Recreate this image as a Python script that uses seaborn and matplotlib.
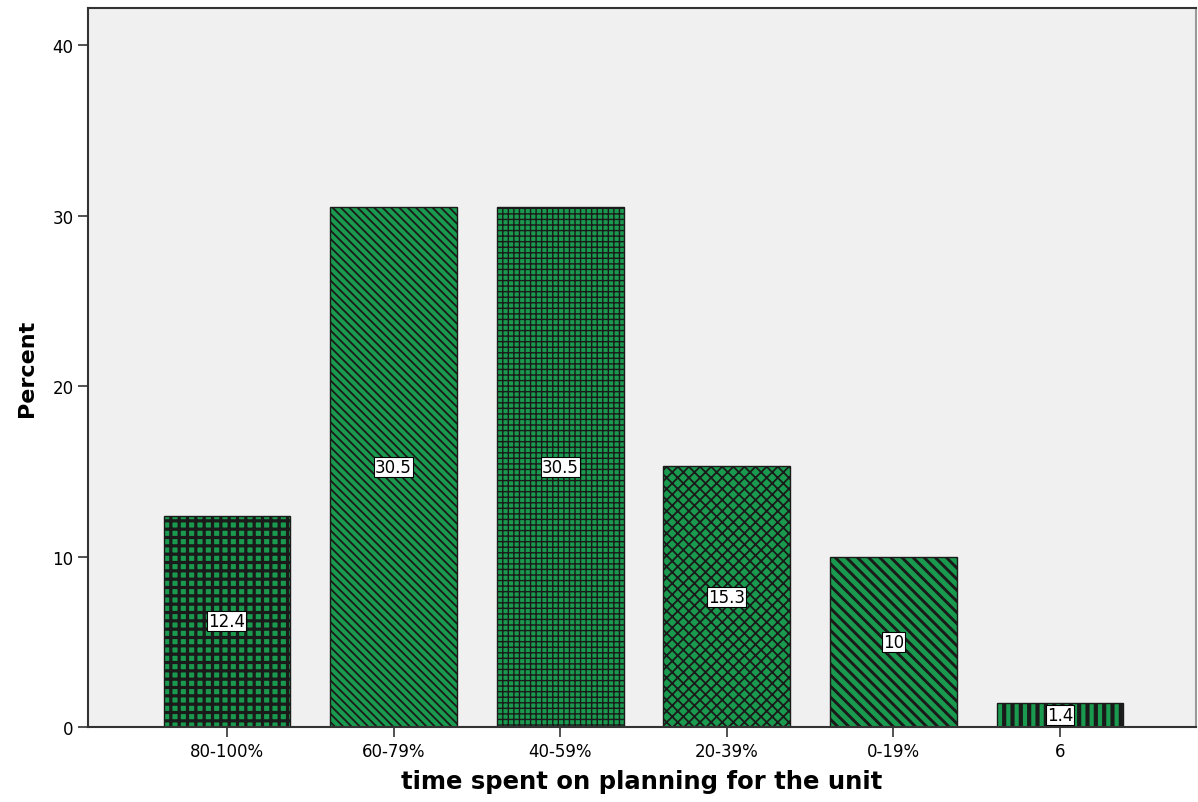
import matplotlib
matplotlib.use("Agg")
import matplotlib.pyplot as plt
import seaborn as sns
import pandas as pd

categories = ["80-100%", "60-79%", "40-59%", "20-39%", "0-19%", "6"]
percent = [12.4, 30.5, 30.5, 15.3, 10, 1.4]
hatches = ["++", "\\\\\\\\", "+++", "xxx", "\\\\\\", "||"]
hatch_widths = [2.3, 1.3, 1.0, 1.3, 2.1, 3.0]

sns.set_style("ticks", {"axes.facecolor": "#f0f0f0", "axes.edgecolor": "#333333",
                        "text.color": "black", "axes.labelcolor": "black",
                        "xtick.color": "black", "ytick.color": "black"})
plt.rcParams["font.family"] = ["DejaVu Sans"]
plt.rcParams["hatch.linewidth"] = 2.0

fig = plt.figure(figsize=(11.98, 8.03), dpi=100)
ax = fig.add_axes([88 / 1198, 1 - 728 / 803, (1196 - 88) / 1198, (728 - 9) / 803])

df = pd.DataFrame({"cat": categories, "pct": percent})
sns.barplot(data=df, x="cat", y="pct", ax=ax, color="#1a9a4e", width=0.76,
            edgecolor="#1a1a1a", linewidth=1.0, saturation=1)

for p, h, hw in zip(ax.patches, hatches, hatch_widths):
    p.set_hatch(h)
    try:
        p.set_hatch_linewidth(hw)
    except Exception:
        pass

for i, v in enumerate(percent):
    ax.text(i, v / 2, f"{v:g}", ha="center", va="center", fontsize=12, color="black",
            bbox=dict(boxstyle="square,pad=0.06", facecolor="white", edgecolor="black", linewidth=0.8))

ax.set_xlim(-0.834, 5.816)
ax.set_ylim(0, 42.2)
ax.set_yticks([0, 10, 20, 30, 40])
ax.tick_params(axis="both", labelsize=12, length=7, width=1.2, color="#333333", labelcolor="black")
ax.set_xlabel("time spent on planning for the unit", fontsize=17.5, fontweight="bold",
              labelpad=7, color="black")
ax.set_ylabel("Percent", fontsize=16, fontweight="bold", labelpad=11, color="black")
for s in ["left", "bottom", "top"]:
    ax.spines[s].set_color("#333333")
    ax.spines[s].set_linewidth(1.5)
ax.spines["right"].set_color("#999999")
ax.spines["right"].set_linewidth(1.5)

fig.savefig("out.png", dpi=100)
